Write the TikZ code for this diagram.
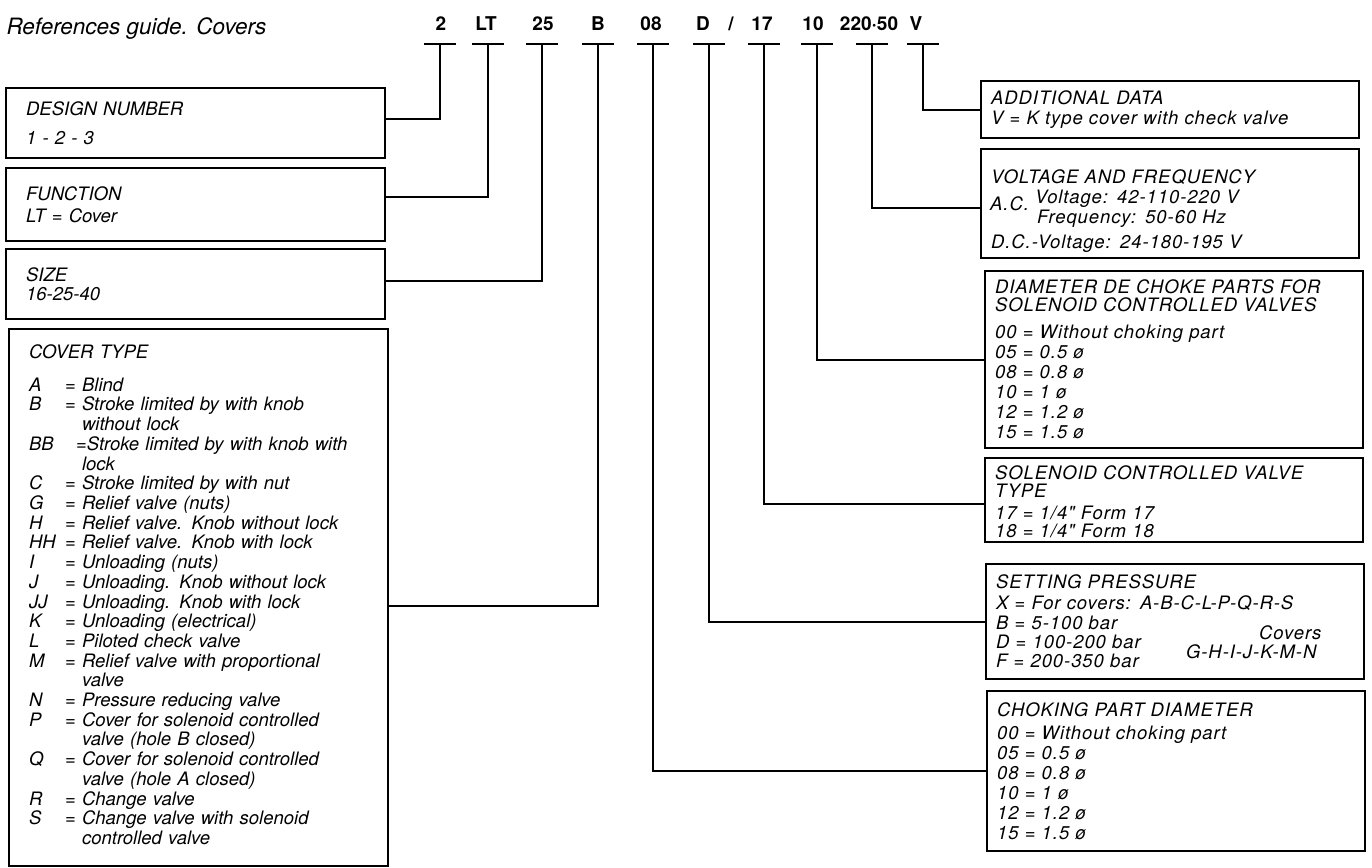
\documentclass[tikz,border=0pt]{standalone}
\usepackage{fontspec}
\setmainfont{TeX Gyre Heros}
\newfontfamily\widefont[LetterSpace=5, WordSpace=1.5]{TeX Gyre Heros}

\tikzset{
  link/.style={line width=2.2pt},
  leftbox/.style={draw, line width=2.2pt, anchor=north west, minimum width=379pt,
    text width=339pt, inner xsep=20pt, inner ysep=0pt, align=left,
    font=\fontsize{18.5}{19.7}\selectfont\itshape},
  rightbox/.style={draw, line width=2.2pt, anchor=north west, text width=358pt,
    inner xsep=10pt, inner ysep=0pt, align=left, font=\righttext},
  codetext/.style={anchor=base, font=\fontsize{19}{19}\selectfont\bfseries},
}
\newcommand{\righttext}{\widefont\fontsize{18.5}{20}\selectfont\itshape}

\begin{document}
\begin{tikzpicture}[x=1pt, y=-1pt]
    \useasboundingbox (0,0) rectangle (1372,867);

    % title and reference code
    \node[anchor=base west, font=\fontsize{22.5}{24}\selectfont\itshape] (title) at (3,35) {References guide. Covers};
    \foreach \n/\x/\lbl in {2/441/2, LT/486/LT, 25/543/25, B/598/B, 08/651/08, D/703/D, 17/762/17, 10/813/10, 220/869/220·50, V/916/V}
        \node[codetext] (code\n) at (\x,31) {\lbl};
    \node[codetext] (slash) at (731,31) {/};

    % T bars under the code
    \foreach \n/\x in {2/440, LT/488, 25/542, B/598, 08/653, D/709, 17/764, 10/817, 220/872, V/923} {
        \coordinate (tee\n) at (\x,44);
        \draw[link] ([xshift=-16pt]tee\n) -- ([xshift=16pt]tee\n);
    }

    % left column
    \node[leftbox, minimum height=70pt] (design) at (5,87) {DESIGN NUMBER\\[10pt]1 - 2 - 3};
    \node[leftbox, minimum height=73pt] (function) at (5,167) {FUNCTION\\[2pt]LT = Cover};
    \node[leftbox, minimum height=70pt] (size) at (5,248) {SIZE\\16-25-40};
    \node[leftbox, minimum height=537pt, inner xsep=19pt] (cover) at (8,328) {COVER TYPE\\[13pt]
        \begin{tabular}[t]{@{}p{36pt}@{}l@{}}
        A & = Blind\\
        B & = Stroke limited by with knob\\
          & \phantom{=} without lock\\
        BB & \hspace*{11pt}=Stroke limited by with knob with\\
          & \phantom{=} lock\\
        C & = Stroke limited by with nut\\
        G & = Relief valve (nuts)\\
        H & = Relief valve. Knob without lock\\
        HH & = Relief valve. Knob with lock\\
        I & = Unloading (nuts)\\
        J & = Unloading. Knob without lock\\
        JJ & = Unloading. Knob with lock\\
        K & = Unloading (electrical)\\
        L & = Piloted check valve\\
        M & = Relief valve with proportional\\
          & \phantom{=} valve\\
        N & = Pressure reducing valve\\
        P & = Cover for solenoid controlled\\
          & \phantom{=} valve (hole B closed)\\
        Q & = Cover for solenoid controlled\\
          & \phantom{=} valve (hole A closed)\\
        R & = Change valve\\
        S & = Change valve with solenoid\\
          & \phantom{=} controlled valve
        \end{tabular}};

    % right column
    \node[rightbox, minimum height=57pt] (additional) at (980,80) {ADDITIONAL DATA\\V = K type cover with check valve};
    \node[rightbox, minimum height=109pt] (voltage) at (980,148) {\rule{0pt}{28pt}VOLTAGE AND FREQUENCY\\
        \hspace*{44pt}Voltage: 42-110-220 V\\
        \hspace*{46pt}Frequency: 50-60 Hz\\[5pt]
        D.C.-Voltage: 24-180-195 V};
    \node[anchor=west, inner sep=0pt, font=\righttext] (ac) at ([xshift=10pt]voltage.west) {A.C.};
    \node[rightbox, minimum height=177pt] (diameter) at (984,270) {DIAMETER DE CHOKE PARTS FOR\\[-2pt]
        SOLENOID CONTROLLED VALVES\\[7pt]
        00 = Without choking part\\05 = 0.5 ø\\08 = 0.8 ø\\10 = 1 ø\\12 = 1.2 ø\\15 = 1.5 ø};
    \node[rightbox, minimum height=84pt] (solenoid) at (984,457) {\rule{0pt}{18pt}SOLENOID CONTROLLED VALVE\\[-2pt]
        TYPE\\[2pt]17 = 1/4" Form 17\\[-2pt]18 = 1/4" Form 18};
    \node[rightbox, minimum height=115pt] (setting) at (985,563) {SETTING PRESSURE\\[1pt]
        X = For covers: A-B-C-L-P-Q-R-S\\
        B = 5-100 bar\\[-1pt]D = 100-200 bar\\[-1pt]F = 200-350 bar};
    \node[anchor=base, font=\righttext] (covers) at ([xshift=-75pt,yshift=-18pt]setting.east) {Covers};
    \node[anchor=base, font=\righttext] (ghij) at ([xshift=-114pt,yshift=-37pt]setting.east) {G-H-I-J-K-M-N};
    \node[rightbox, minimum height=160pt] (choking) at (986,690) {CHOKING PART DIAMETER\\[3pt]
        00 = Without choking part\\05 = 0.5 ø\\08 = 0.8 ø\\10 = 1 ø\\12 = 1.2 ø\\15 = 1.5 ø};

    % connectors
    \draw[link] (tee2) |- ([yshift=4pt]design.east);
    \draw[link] (teeLT) |- ([yshift=8pt]function.east);
    \draw[link] (tee25) |- ([yshift=3pt]size.east);
    \draw[link] (teeB) |- ([yshift=-8pt]cover.east);
    \draw[link] (teeV) |- (additional.west);
    \draw[link] (tee220) |- ([yshift=-4pt]voltage.west);
    \draw[link] (tee10) |- (diameter.west);
    \draw[link] (tee17) |- ([yshift=-4pt]solenoid.west);
    \draw[link] (teeD) |- (setting.west);
    \draw[link] (tee08) |- (choking.west);
\end{tikzpicture}
\end{document}
